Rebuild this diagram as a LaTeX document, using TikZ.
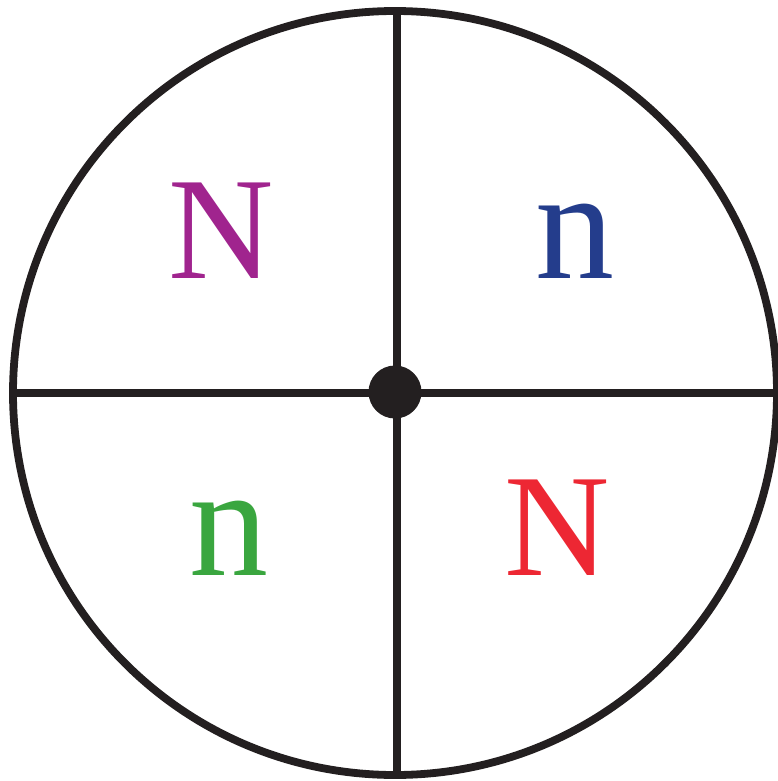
\documentclass[tikz,border=0pt]{standalone}
\usepackage{fontspec}
\setmainfont{Liberation Serif}
\definecolor{inkblack}{HTML}{231F20}
\definecolor{lpurple}{HTML}{A0248E}
\definecolor{lblue}{HTML}{243D8C}
\definecolor{lgreen}{HTML}{3AA63F}
\definecolor{lred}{HTML}{ED2733}
\begin{document}
\begin{tikzpicture}[x=1pt,y=-1pt,
  rim/.style={draw=inkblack,line width=7.8pt},
  bigN/.style={anchor=base,inner sep=0pt,font=\fontsize{146}{146}\selectfont},
  smalln/.style={anchor=base,inner sep=0pt,font=\fontsize{158}{158}\selectfont}]
\useasboundingbox (0,0) rectangle (778,781);
\coordinate (c) at (395,393);
\draw[rim] (c) circle (382);
\coordinate (top) at (397,11);
\coordinate (bot) at (397,775);
\coordinate (lft) at (13,393);
\coordinate (rgt) at (777,393);
\draw[rim] (top) -- (bot);
\draw[rim] (lft) -- (rgt);
\node[circle,fill=inkblack,minimum size=53pt,inner sep=0pt] (hub) at (395,392) {};
\node[bigN,text=lpurple] (nw) at (221,278) {N};
\node[smalln,text=lblue] (ne) at (575,278) {n};
\node[smalln,text=lgreen] (sw) at (229,575) {n};
\node[bigN,text=lred] (se) at (557,575) {N};
\end{tikzpicture}
\end{document}
